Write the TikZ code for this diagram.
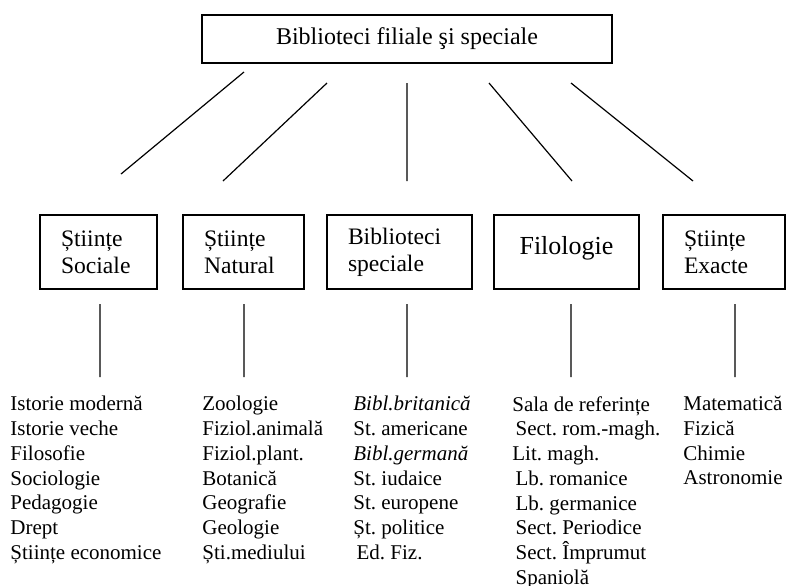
\documentclass[tikz,border=0pt]{standalone}
\usepackage{fontspec}
\setmainfont{Liberation Serif}
\usetikzlibrary{positioning}
\frenchspacing
\newcommand{\ind}{\hspace*{1.6pt}} % small indent of some list lines
\tikzset{
x=0.5pt, y=-0.5pt, % one unit = one pixel of the scan, y going down
box/.style={draw, line width=0.8pt, inner xsep=10.5pt, inner ysep=0pt, align=left, minimum height=37pt, font=\fontsize{11.8}{13.5}\selectfont}, % the section boxes
branch/.style={line width=0.6pt}, % the plain connecting lines
list/.style={anchor=north west, inner sep=0pt, align=left, execute at begin node={\lineskiplimit=-5pt\strut}, font=\fontsize{10.5}{12.35}\selectfont}, % the lists of departments
}
\begin{document}
\begin{tikzpicture}
\useasboundingbox (0,0) rectangle (786,585);
\node[box, align=center, minimum width=205pt, minimum height=24pt, font=\fontsize{12}{14}\selectfont] (main) at (407,39) {Biblioteci filiale şi speciale};
\node[box, text width=37.5pt] (soc) at (98.5,252) {Științe\\Sociale};
\node[box, text width=39.5pt] (nat) at (243.5,252) {Științe\\Natural};
\node[box, text width=51.5pt] (spec) at (399.5,252) {Biblioteci\\speciale};
\node[box, text width=51.5pt, align=center, font=\fontsize{13}{15}\selectfont] (filo) at (566.5,252) {\raisebox{7pt}{Filologie}};
\node[box, text width=40pt] (exa) at (724,252) {Științe\\Exacte};
% line ends
\coordinate (a1) at (244,72); \coordinate (b1) at (121,174);
\coordinate (a2) at (327,83); \coordinate (b2) at (223,181);
\coordinate (a3) at (407,83); \coordinate (b3) at (407,181);
\coordinate (a4) at (489,83); \coordinate (b4) at (572,181);
\coordinate (a5) at (571,83); \coordinate (b5) at (693,181);
\coordinate (c1) at (100,304); \coordinate (d1) at (100,377);
\coordinate (c2) at (244,304); \coordinate (d2) at (244,377);
\coordinate (c3) at (407,304); \coordinate (d3) at (407,377);
\coordinate (c4) at (571,304); \coordinate (d4) at (571,377);
\coordinate (c5) at (735,304); \coordinate (d5) at (735,377);
\draw[branch]
    (a1) -- (b1) (a2) -- (b2) (a3) -- (b3) (a4) -- (b4) (a5) -- (b5)
    (c1) -- (d1) (c2) -- (d2) (c3) -- (d3) (c4) -- (d4) (c5) -- (d5);
% lists
\node[list] (socl) at (10,396) {Istorie modernă\\Istorie veche\\Filosofie\\Sociologie\\Pedagogie\\Drept\\Științe economice};
\node[list] (natl) at (202,396) {Zoologie\\Fiziol.animală\\Fiziol.plant.\\Botanică\\Geografie\\Geologie\\Ști.mediului};
\node[list] (specl) at (353,396) {\textit{Bibl.britanică}\\St. americane\\\textit{Bibl.germană}\\St. iudaice\\St. europene\\Șt. politice\\\ind Ed. Fiz.};
\node[list] (filol) at (512,396) {Sala de referințe\\\ind Sect. rom.-magh.\\Lit. magh.\\\ind Lb. romanice\\\ind Lb. germanice\\\ind Sect. Periodice\\\ind Sect. Împrumut\\\ind Spaniolă};
\node[list] (exal) at (683,396) {Matematică\\Fizică\\Chimie\\Astronomie};
\end{tikzpicture}
\end{document}
